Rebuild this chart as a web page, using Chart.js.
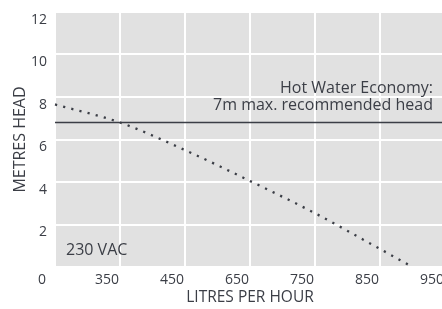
<!DOCTYPE html>
<html>
<head>
<meta charset="utf-8">
<script src="https://cdn.jsdelivr.net/npm/chart.js@4.4.0/dist/chart.umd.min.js"></script>
<style>
  html, body { margin: 0; padding: 0; background: #fff; overflow: hidden; }
  #wrap { position: relative; width: 445px; height: 309px; }
</style>
</head>
<body>
<div id="wrap"><canvas id="myChart"></canvas></div>
<script>
// flow positions on the axis (one unit per tick) and head in metres
const flowPos = [0, 1, 2, 3, 4, 5, 5.5];
const headMetres = [7.65, 6.8, 5.5, 4.05, 2.53, 0.85, 0];
const flowTickLabels = ['0', '350', '450', '650', '750', '850', '950'];
const headTicks = [0, 2, 4, 6, 8, 10, 12];
const hotWaterLimit = 6.8;
const limitNote = ['Hot Water Economy:', '7m max. recommended head'];
const supplyNote = '230 VAC';

const ink = '#3b3e46';
const fontFam = "'Open Sans', sans-serif";

const curve = flowPos.map((x, i) => ({ x: x, y: headMetres[i] }));
const limitLine = [{ x: 0, y: hotWaterLimit }, { x: 6, y: hotWaterLimit }];

const notes = {
  id: 'notes',
  afterDatasetsDraw(chart) {
    const c = chart.ctx;
    const xs = chart.scales.x, ys = chart.scales.y;
    c.save();
    c.fillStyle = ink;
    c.font = '16px ' + fontFam;
    c.textBaseline = 'middle';
    c.textAlign = 'right';
    const ly = ys.getPixelForValue(hotWaterLimit);
    c.fillText(limitNote[0], xs.right - 12, ly - 34);
    c.fillText(limitNote[1], xs.right - 12, ly - 17);
    c.textAlign = 'left';
    c.fillText(supplyNote, xs.left + 11, ys.bottom - 17);
    c.restore();
  }
};

const bgPlugin = {
  id: 'plotBg',
  beforeDraw(chart) {
    const a = chart.chartArea;
    chart.ctx.save();
    chart.ctx.fillStyle = '#e1e1e1';
    chart.ctx.fillRect(a.left, a.top, a.right - a.left, a.bottom - a.top);
    chart.ctx.restore();
  }
};

let ctx = document.getElementById('myChart');
new Chart(ctx, {
  type: 'scatter',
  data: {
    datasets: [
      {
        data: curve,
        showLine: true,
        borderColor: ink,
        borderWidth: 2.3,
        borderDash: [2.2, 6.2],
        cubicInterpolationMode: 'monotone',
        pointRadius: 0,
        clip: false
      },
      {
        data: limitLine,
        showLine: true,
        borderColor: ink,
        borderWidth: 1.3,
        pointRadius: 0
      }
    ]
  },
  options: {
    responsive: true,
    maintainAspectRatio: false,
    animation: false,
    layout: { padding: { top: 12, right: 0, left: 0, bottom: 0 } },
    plugins: { legend: { display: false }, tooltip: { enabled: false } },
    scales: {
      x: {
        type: 'linear',
        min: 0,
        max: 6,
        afterFit(s) { s.height = 42; s.paddingLeft = 0; s.paddingRight = 0; },
        grid: { color: '#ffffff', lineWidth: 2, drawTicks: false },
        border: { display: false },
        ticks: {
          stepSize: 1,
          padding: 5,
          labelOffset: -13,
          color: ink,
          font: { family: fontFam, size: 14 },
          callback: (v) => flowTickLabels[v]
        },
        title: {
          display: true,
          text: 'LITRES PER HOUR',
          color: ink,
          font: { family: fontFam, size: 15.5 },
          padding: { top: 0, bottom: 2 }
        }
      },
      y: {
        min: 0,
        max: 12,
        afterFit(s) { s.width = 55; s.paddingTop = 0; s.paddingBottom = 0; },
        afterBuildTicks(s) { s.ticks = headTicks.map(v => ({ value: v })); },
        grid: { color: '#ffffff', lineWidth: 2, drawTicks: false },
        border: { display: false },
        ticks: {
          padding: 8,
          labelOffset: 8,
          color: ink,
          font: { family: fontFam, size: 14 },
          // the 0 is shared with the flow axis label below it
          callback: (v) => (v === 0 ? '' : String(v))
        },
        title: {
          display: true,
          text: 'METRES HEAD',
          color: ink,
          font: { family: fontFam, size: 16 },
          padding: { top: 11, bottom: 0 }
        }
      }
    }
  },
  plugins: [bgPlugin, notes]
});
</script>
</body>
</html>
